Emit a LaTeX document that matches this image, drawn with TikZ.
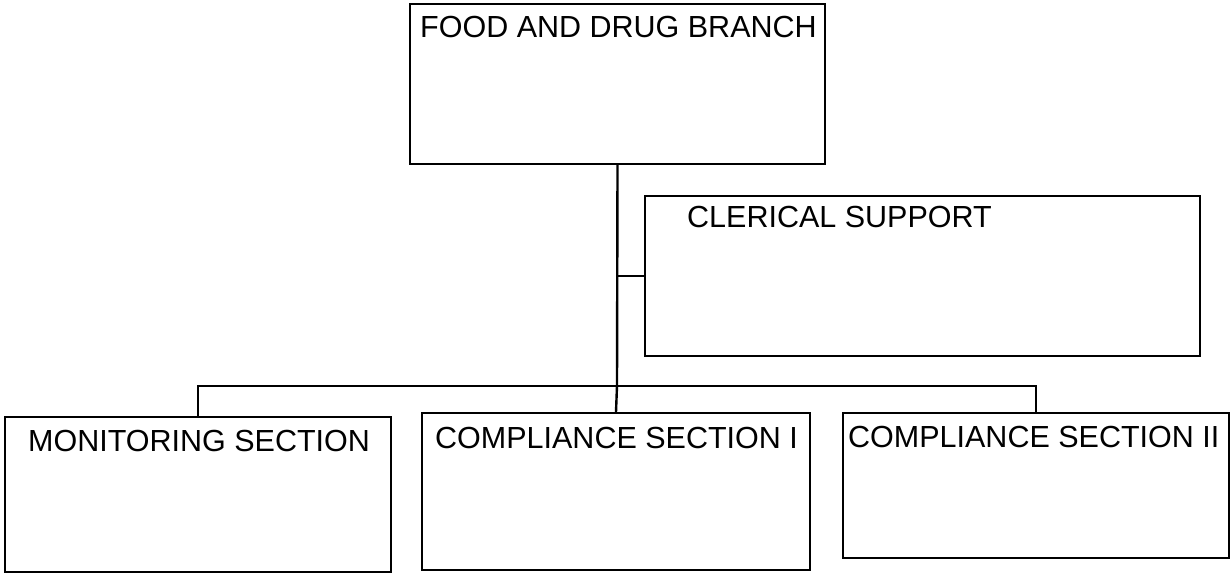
\documentclass[tikz,border=0pt]{standalone}
\usepackage{fontspec}
\setmainfont{Liberation Sans}
\begin{document}
\begin{tikzpicture}[x=1pt,y=-1pt,
  box/.style={draw, line width=2.4pt, inner sep=0pt, rectangle},
  lbl/.style={anchor=base west, inner sep=0pt, font=\fontsize{30.5}{34}\selectfont},
  conn/.style={line width=2.4pt}]
\useasboundingbox (0,0) rectangle (1231,577);
\node[box, minimum width=415pt, minimum height=160pt] (fdb) at (617.5,84) {};
\node[box, minimum width=555pt, minimum height=160pt] (cler) at (922.5,276) {};
\node[box, minimum width=386pt, minimum height=155pt] (mon) at (198,494.5) {};
\node[box, minimum width=388pt, minimum height=157pt] (c1) at (616,491.5) {};
\node[box, minimum width=386pt, minimum height=145pt] (c2) at (1036,485.5) {};
\node[lbl] (tfdb) at (420,38) {FOOD AND DRUG BRANCH};
\node[lbl] (tcler) at (687,228) {CLERICAL SUPPORT};
\node[lbl] (tmon) at (28,451) {MONITORING SECTION};
\node[lbl] (tc1) at (435,448) {COMPLIANCE SECTION I};
\node[lbl] (tc2) at (848,447) {COMPLIANCE SECTION II};
\coordinate (bus) at (617,386);
\draw[conn] (fdb.south) -- (bus);
\draw[conn] (fdb.south |- cler.west) -- (cler.west);
\draw[conn] (mon.north) |- (bus) -| (c2.north);
\draw[conn] (bus) -- (c1.north);
\end{tikzpicture}
\end{document}
